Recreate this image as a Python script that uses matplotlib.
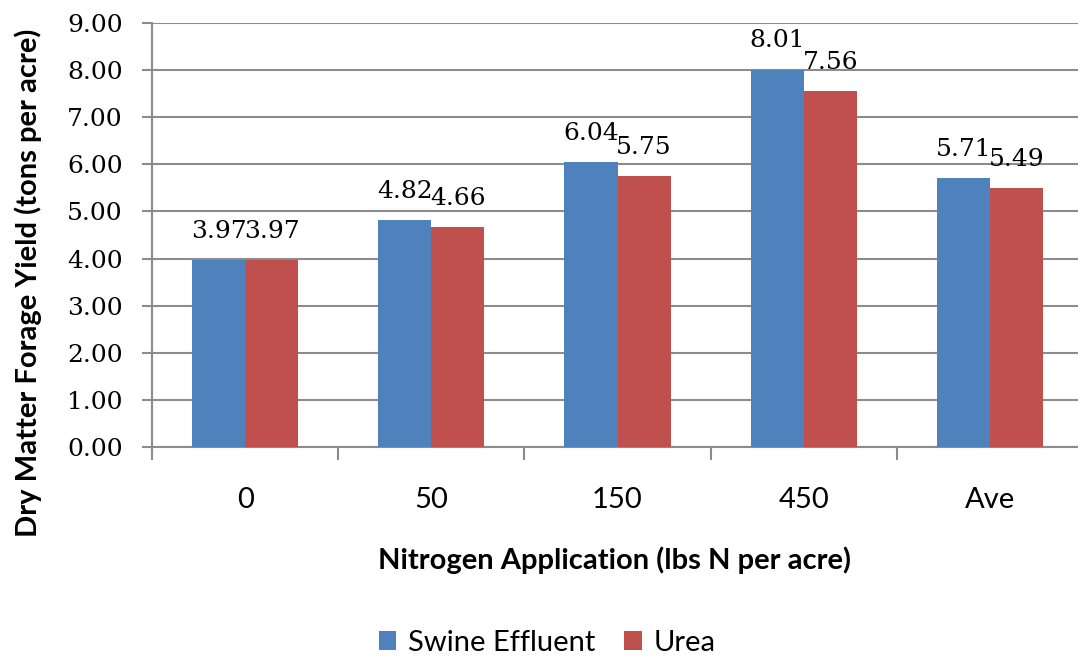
import matplotlib
matplotlib.use("Agg")
import matplotlib.pyplot as plt
import numpy as np

# Dry matter forage yield by nitrogen rate
categories = ["0", "50", "150", "450", "Ave"]
swine_effluent = [3.97, 4.82, 6.04, 8.01, 5.71]
urea = [3.97, 4.66, 5.75, 7.56, 5.49]
series_names = ["Swine Effluent", "Urea"]
y_ticks = [0, 1, 2, 3, 4, 5, 6, 7, 8, 9]

BLUE = "#4F81BD"
RED = "#C0504D"
GRID = "#8C8C8C"
SANS = "Lato"
SERIF = "DejaVu Serif"
W, H = 1078, 662

fig = plt.figure(figsize=(W / 100, H / 100), dpi=100)
ax = fig.add_axes([152 / W, 215 / H, 931 / W, 424 / H])

x = np.arange(len(categories))
width = 0.285
b1 = ax.bar(x - width / 2, swine_effluent, width, color=BLUE, label=series_names[0], zorder=3)
b2 = ax.bar(x + width / 2, urea, width, color=RED, label=series_names[1], zorder=3)

for bars, vals in ((b1, swine_effluent), (b2, urea)):
    for rect, v in zip(bars, vals):
        ax.annotate(f"{v:.2f}", (rect.get_x() + rect.get_width() / 2, v),
                    xytext=(0, 16), textcoords="offset points",
                    ha="center", va="baseline", fontsize=18, family=SERIF)

ax.set_xlim(-0.5, len(categories) - 0.5)
ax.set_ylim(0, 9)

ax.set_yticks(y_ticks)
ax.set_yticklabels([f"{t:.2f}" for t in y_ticks], family=SERIF, fontsize=18)
ax.tick_params(axis="y", length=7, width=1.5, color=GRID, pad=14)
ax.yaxis.grid(True, color=GRID, linewidth=1.5, zorder=0)

ax.set_xticks(x)
ax.set_xticklabels(categories, family=SANS, fontsize=21)
ax.set_xticks(np.arange(-0.5, len(categories)), minor=True)
ax.tick_params(axis="x", which="major", length=0, pad=29)
ax.tick_params(axis="x", which="minor", length=9, width=1.5, color=GRID)

for side in ("top", "right"):
    ax.spines[side].set_visible(False)
for side in ("left", "bottom"):
    ax.spines[side].set_color(GRID)
    ax.spines[side].set_linewidth(1.5)

# axis titles placed in figure pixels
fig.text(615 / W, 1 - 560 / H, "Nitrogen Application (lbs N per acre)", family=SANS,
         fontsize=21, fontweight="bold", ha="center", va="center")
fig.text(28 / W, 1 - 283 / H, "Dry Matter Forage Yield (tons per acre)", family=SANS,
         fontsize=21, fontweight="bold", ha="center", va="center", rotation=90)

fig.legend(handles=[b1, b2], loc="center", bbox_to_anchor=(547 / W, 1 - 643 / H), ncol=2,
           frameon=False, prop={"family": SANS, "size": 21}, handlelength=0.6,
           handleheight=0.6, handletextpad=0.4, columnspacing=1.0)

fig.savefig("out.png", dpi=100)
